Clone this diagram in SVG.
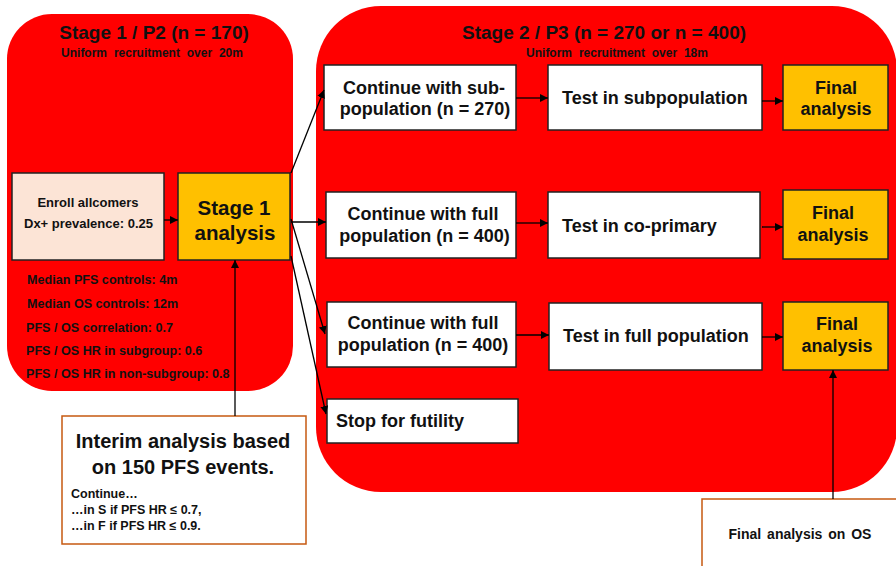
<svg xmlns="http://www.w3.org/2000/svg" width="896" height="566" viewBox="0 0 896 566">
<defs>
<marker id="ah" viewBox="0 0 10 10" refX="10" refY="5" markerWidth="8" markerHeight="8" markerUnits="userSpaceOnUse" orient="auto">
<path d="M0,0 L10,5 L0,10 z" fill="#000"/>
</marker>
<style>
text{font-family:"Liberation Sans",Arial,sans-serif;font-weight:bold;fill:#111}
.panel{fill:#FF0000}
.box{fill:#fff;stroke:#222;stroke-width:1.5}
.gold{fill:#FFC000;stroke:#222;stroke-width:1.5}
.peach{fill:#FCE4D6;stroke:#222;stroke-width:1.5}
.note{fill:#fff;stroke:#C65911;stroke-width:1.5}
.c{text-anchor:middle}
.t18{font-size:18px}
.t19{font-size:19px}
.sub{font-size:12px;word-spacing:3.5px}
.stat{font-size:12.6px}
.small{font-size:12.5px}
.conn line{stroke:#000;stroke-width:1.3;marker-end:url(#ah)}
</style>
</defs>
<rect width="896" height="566" fill="#fff"/>

<g id="stage1-panel">
<rect class="panel" x="7" y="14" width="286" height="377" rx="45"/>
<text class="c t19" x="154" y="38.5">Stage 1 / P2 (n = 170)</text>
<text class="c sub" x="152" y="56.5">Uniform recruitment over 20m</text>
<text class="stat" x="27" y="283.5">Median PFS controls: 4m</text>
<text class="stat" x="27" y="307.5">Median OS controls: 12m</text>
<text class="stat" x="26" y="331.5">PFS / OS correlation: 0.7</text>
<text class="stat" x="26" y="354.5">PFS / OS HR in subgroup: 0.6</text>
<text class="stat" x="26" y="377.5">PFS / OS HR in non-subgroup: 0.8</text>
</g>

<g id="stage2-panel">
<rect class="panel" x="316" y="6" width="581" height="486" rx="65"/>
<text class="c t19" x="604" y="39">Stage 2 / P3 (n = 270 or n = 400)</text>
<text class="c sub" x="617" y="56.5">Uniform recruitment over 18m</text>
</g>

<g id="enroll">
<rect class="peach" x="12" y="173" width="152" height="87"/>
<text class="c" style="font-size:13px" x="88" y="206.5">Enroll allcomers</text>
<text class="c" style="font-size:13px" x="88.5" y="227.5">Dx+ prevalence: 0.25</text>
</g>

<g id="stage1-analysis">
<rect class="gold" x="178" y="173" width="112" height="87"/>
<text class="c" style="font-size:20.5px" x="234" y="214.5">Stage 1</text>
<text class="c" style="font-size:20.5px" x="235" y="239.5">analysis</text>
</g>

<g id="interim">
<rect class="note" x="62" y="416" width="244" height="128"/>
<text class="c" style="font-size:20px" x="183" y="448">Interim analysis based</text>
<text class="c" style="font-size:20px" x="183" y="474">on 150 PFS events.</text>
<text class="small" x="71" y="498">Continue…</text>
<text class="small" x="71" y="514">…in S if PFS HR ≤ 0.7,</text>
<text class="small" x="71" y="530">…in F if PFS HR ≤ 0.9.</text>
</g>

<g id="continue-sub">
<rect class="box" x="324" y="65" width="192" height="65"/>
<text class="c t18" x="424" y="93.5">Continue with sub-</text>
<text class="c t18" x="425" y="115">population (n = 270)</text>
</g>
<g id="test-sub">
<rect class="box" x="548" y="65" width="214" height="65"/>
<text class="t18" x="562" y="103.5">Test in subpopulation</text>
</g>
<g id="final-1">
<rect class="gold" x="783" y="65" width="105" height="65"/>
<text class="c t18" x="836" y="93.5">Final</text>
<text class="c t18" x="836" y="114.5">analysis</text>
</g>

<g id="continue-full-1">
<rect class="box" x="326" y="192" width="190" height="66"/>
<text class="c t18" x="423" y="220">Continue with full</text>
<text class="c t18" x="424.5" y="241.5">population (n = 400)</text>
</g>
<g id="test-coprimary">
<rect class="box" x="548" y="192" width="212" height="66"/>
<text class="t18" x="562" y="231.5">Test in co-primary</text>
</g>
<g id="final-2">
<rect class="gold" x="783" y="190" width="105" height="69"/>
<text class="c t18" x="833" y="218.5">Final</text>
<text class="c t18" x="833" y="240.5">analysis</text>
</g>

<g id="continue-full-2">
<rect class="box" x="327" y="302" width="189" height="65"/>
<text class="c t18" x="423" y="328.5">Continue with full</text>
<text class="c t18" x="423" y="350.5">population (n = 400)</text>
</g>
<g id="test-full">
<rect class="box" x="549" y="303" width="213" height="67"/>
<text class="t18" x="563" y="341.5">Test in full population</text>
</g>
<g id="final-3">
<rect class="gold" x="783" y="302" width="105" height="68"/>
<text class="c t18" x="837" y="329.5">Final</text>
<text class="c t18" x="837" y="351.5">analysis</text>
</g>

<g id="stop">
<rect class="box" x="327" y="399" width="191" height="44"/>
<text class="t18" x="336" y="426.5">Stop for futility</text>
</g>

<g id="final-os">
<rect class="note" x="702" y="499" width="200" height="80"/>
<text class="c" style="font-size:14px;word-spacing:2px" x="800" y="539">Final analysis on OS</text>
</g>

<g id="connectors" class="conn">
<line x1="164" y1="220" x2="178" y2="220"/>
<line x1="235" y1="416" x2="235" y2="260"/>
<line x1="291" y1="173" x2="324" y2="90"/>
<line x1="291" y1="222" x2="326" y2="222"/>
<line x1="291" y1="219" x2="325" y2="334"/>
<line x1="291" y1="256" x2="326" y2="414"/>
<line x1="516" y1="98" x2="548" y2="98"/>
<line x1="762" y1="101" x2="783" y2="101"/>
<line x1="516" y1="223" x2="548" y2="223"/>
<line x1="762" y1="227" x2="783" y2="227"/>
<line x1="516" y1="335" x2="549" y2="335"/>
<line x1="762" y1="337" x2="783" y2="337"/>
<line x1="833" y1="499" x2="833" y2="370"/>
</g>
</svg>
